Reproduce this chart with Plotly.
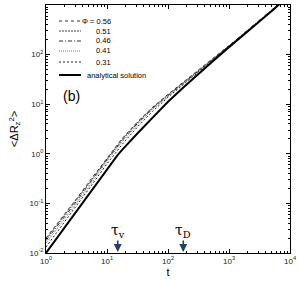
import math
import plotly.graph_objects as go

# ---- data ----
t_sim = [1, 1.8, 3.2, 5.6, 10, 18, 32, 56, 100, 180, 320, 560, 1000, 1800, 3200, 5600, 10000]
msd_056 = [0.020, 0.050, 0.126, 0.32, 0.83, 2.09, 4.47, 8.7, 15.8, 28.2, 49, 85, 151, 269, 479, 871, 1620]
msd_051 = [0.019, 0.048, 0.120, 0.30, 0.79, 2.0, 4.37, 8.5, 15.5, 27.5, 47.9, 83, 148, 263, 479, 871, 1620]
msd_046 = [0.0178, 0.045, 0.112, 0.29, 0.76, 1.9, 4.17, 8.3, 15.1, 26.9, 46.8, 83, 148, 263, 479, 871, 1620]
msd_041 = [0.0158, 0.040, 0.102, 0.26, 0.71, 1.78, 3.9, 7.9, 14.5, 26.3, 45.7, 81, 145, 257, 470, 860, 1620]
msd_031 = [0.0132, 0.0347, 0.089, 0.234, 0.63, 1.58, 3.55, 7.2, 13.8, 25.1, 44.7, 79, 145, 257, 468, 851, 1585]

t_an = [1, 1.8, 3.2, 5.6, 10, 12.6, 15, 18, 22, 32, 56, 100, 180, 320, 560, 1000, 1800, 3200, 5600, 10000]
msd_an = [0.010, 0.027, 0.072, 0.186, 0.49, 0.72, 0.95, 1.23, 1.58, 2.63, 5.37, 11.2, 21.9, 41.7, 75.9, 141, 257, 468, 851, 1622]

legend_labels = ["\u03a6 = 0.56", "0.51", "0.46", "0.41", "0.31", "analytical solution"]
tau_v = 15
tau_D = 178

x_tickvals = [1, 10, 100, 1000, 10000]
x_ticktext = ["10<sup>0</sup>", "10<sup>1</sup>", "10<sup>2</sup>", "10<sup>3</sup>", "10<sup>4</sup>"]
y_tickvals = [0.01, 0.1, 1, 10, 100, 1000]
y_ticktext = ["10<sup>-2</sup>", "10<sup>-1</sup>", "10<sup>0</sup>", "10<sup>1</sup>", "10<sup>2</sup>", "10<sup>3</sup>"]

# ---- styles ----
sim_series = [msd_056, msd_051, msd_046, msd_041, msd_031]
sim_styles = [
    dict(color="#333333", width=1, dash="3px,3px"),
    dict(color="#444444", width=1, dash="2px,1px"),
    dict(color="#333333", width=1, dash="4px,2px,1px,2px"),
    dict(color="#777777", width=1, dash="1px,1px"),
    dict(color="#222222", width=1, dash="2px,2px"),
]
an_style = dict(color="black", width=2)

fig = go.Figure()
for ys, st in zip(sim_series, sim_styles):
    fig.add_trace(go.Scatter(x=t_sim, y=ys, mode="lines", line=st, showlegend=False))
fig.add_trace(go.Scatter(x=t_an, y=msd_an, mode="lines", line=an_style, showlegend=False))

# ---- manual legend (paper coords) ----
L, T, B, R = 46, 5, 253, 290
W, H = R - L, B - T
def px(x):
    return (x - L) / W
def py(y):
    return (B - y) / H

row_y = [21, 31, 41, 51, 62, 75]
for i, (lab, yy) in enumerate(zip(legend_labels, row_y)):
    st = sim_styles[i] if i < 5 else an_style
    fig.add_shape(type="line", xref="paper", yref="paper",
                  x0=px(59), x1=px(81), y0=py(yy), y1=py(yy), line=st)
    if i < 5:
        fig.add_annotation(xref="paper", yref="paper", x=px(113), y=py(yy), text=lab,
                           showarrow=False, xanchor="right", yanchor="middle",
                           font=dict(size=7.5, color="black"))
    else:
        fig.add_annotation(xref="paper", yref="paper", x=px(85), y=py(yy), text=lab,
                           showarrow=False, xanchor="left", yanchor="middle",
                           font=dict(size=7.5, color="black"))

fig.add_annotation(xref="paper", yref="paper", x=px(61), y=py(96), text="(b)",
                   showarrow=False, xanchor="left", yanchor="middle",
                   font=dict(size=14, color="black"))

# tau markers
for tv, lab in [(tau_v, "\u03c4<sub>v</sub>"), (tau_D, "\u03c4<sub>D</sub>")]:
    fig.add_annotation(x=math.log10(tv), y=-2, xref="x", yref="y",
                       text=lab, showarrow=True, arrowhead=2, arrowsize=1, arrowwidth=1.6,
                       ax=0, ay=-22, standoff=1, borderpad=0,
                       font=dict(size=14, color="black", family="DejaVu Serif"))

axis_common = dict(type="log", showline=True, linecolor="black", linewidth=1, mirror="ticks",
                   ticks="inside", ticklen=4, tickcolor="black", showgrid=False, zeroline=False,
                   automargin=False, tickfont=dict(size=8, color="#222222"),
                   minor=dict(ticks="inside", ticklen=2, tickcolor="black", showgrid=False,
                              dtick="D1"))

fig.update_xaxes(**axis_common, range=[0, 4], tickvals=x_tickvals, ticktext=x_ticktext,
                 title=dict(text="t", font=dict(size=11, color="black"), standoff=3))
fig.update_yaxes(**axis_common, range=[-2, 3], tickvals=y_tickvals, ticktext=y_ticktext,
                 title=dict(text="<\u0394R<sub>z</sub><sup>2</sup>>", font=dict(size=11, color="black"), standoff=8))

fig.update_layout(width=299, height=281, margin=dict(l=L, r=299 - R, t=T, b=281 - B),
                  paper_bgcolor="white", plot_bgcolor="white",
                  font=dict(family="Liberation Sans, Arial, sans-serif", color="black"),
                  showlegend=False)

fig.write_html("out.html", config={"displayModeBar": False},
               post_script="document.body.style.margin='0';document.body.style.padding='0';")
